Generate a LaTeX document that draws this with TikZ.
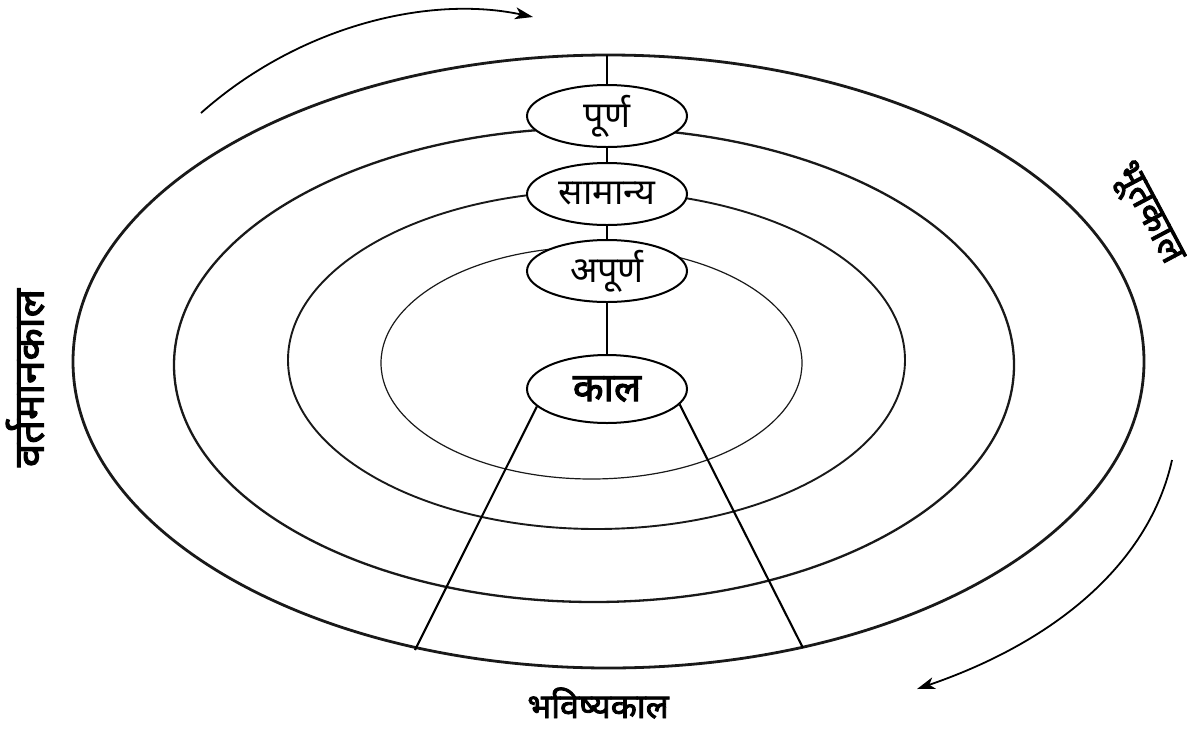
\documentclass[tikz,border=0pt]{standalone}
\usepackage{fontspec}
\newfontfamily\dev[Script=Devanagari]{Noto Sans}
\newfontfamily\devb[Script=Devanagari,FakeBold=2.5]{Noto Sans}
\usetikzlibrary{shapes.geometric,arrows.meta}
\begin{document}
\begin{tikzpicture}[x=1pt,y=-1pt,
  ring/.style={draw=black!90},
  tnode/.style={ellipse,draw,line width=2pt,fill=white,minimum width=160pt,minimum height=62pt,inner sep=0pt,font=\dev\fontsize{36}{36}\selectfont},
  conn/.style={line width=1.5pt},
  spoke/.style={line width=2.1pt},
  lbl/.style={font=\devb\fontsize{34}{34}\selectfont,inner sep=0pt},
  turn/.style={line width=1.8pt,-{Stealth[length=18pt,width=12pt,inset=5pt]}}]
\useasboundingbox (0,0) rectangle (1187,729);
% concentric rings
\draw[ring,line width=2.8pt] (608.5,361.5) ellipse [x radius=535.5, y radius=306.5];
\draw[ring,line width=2.3pt] (594,365) ellipse [x radius=420, y radius=237];
\draw[ring,line width=1.9pt] (596.5,360) ellipse [x radius=308.5, y radius=169];
\draw[ring,line width=1.2pt] (591.5,363) ellipse [x radius=210.5, y radius=116];
% top point of outer ring and spoke ends
\coordinate (top) at (607,55);
\coordinate (bl) at (415,650);
\coordinate (br) at (803,648);
% nodes
\node[tnode] (purna) at (607,116) {पूर्ण};
\node[tnode] (samanya) at (607,194) {सामान्य};
\node[tnode] (apurna) at (607,271) {अपूर्ण};
\node[tnode,font=\devb\fontsize{40}{40}\selectfont,minimum height=68pt] (kala) at (607,389) {काल};
% connectors
\draw[conn] (top) -- (purna);
\draw[conn] (purna) -- (samanya);
\draw[conn] (samanya) -- (apurna);
\draw[conn] (apurna) -- (kala);
\draw[spoke] (kala.194) -- (bl);
\draw[spoke] (kala.-12) -- (br);
% labels
\node[lbl,font=\devb\fontsize{42}{42}\selectfont,rotate=90] (vartaman) at (25,378) {वर्तमानकाल};
\node[lbl,font=\devb\fontsize{37}{37}\selectfont,rotate=-62] (bhoot) at (1146,214) {भूतकाल};
\node[lbl] (bhavishya) at (598,703) {भविष्यकाल};
% direction arrows
\coordinate (a1s) at (201,113);
\coordinate (a1e) at (533,17);
\coordinate (a2s) at (1172,460);
\coordinate (a2e) at (917,689);
\draw[turn] (a1s) .. controls (300,25) and (430,-5) .. (a1e);
\draw[turn] (a2s) .. controls (1150,560) and (1060,640) .. (a2e);
\end{tikzpicture}
\end{document}
